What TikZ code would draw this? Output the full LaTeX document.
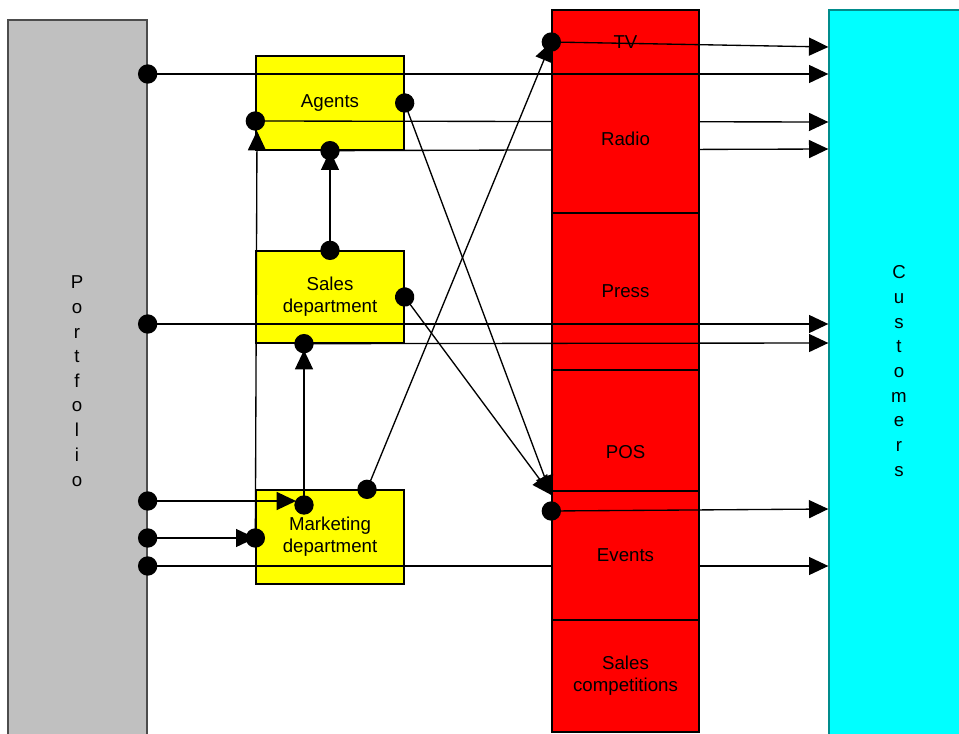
\documentclass[tikz,border=0pt]{standalone}
\usepackage{fontspec}
\setmainfont{Liberation Sans}
\usetikzlibrary{arrows.meta}
\definecolor{silver}{RGB}{192,192,192}
\definecolor{custedge}{RGB}{0,140,140}
\definecolor{custfill}{RGB}{0,255,255}
\definecolor{deptfill}{RGB}{255,255,0}
\definecolor{mediafill}{RGB}{255,0,0}
\tikzset{
    unit/.style={draw=black, line width=1pt, inner sep=0pt, align=center, font=\fontsize{14}{16.5}\selectfont},
    dept/.style={unit, fill=deptfill, minimum width=111pt},
    media/.style={unit, fill=mediafill, minimum width=110.25pt},
    stack/.style={align=center, inner sep=0pt, font=\fontsize{14}{18.5}\selectfont},
    flow/.style={line width=1pt, {Circle[length=14.5pt]}-{Triangle[length=14.5pt,width=13.5pt]}, shorten <=-7.25pt},
}
\begin{document}
\begin{tikzpicture}[x=0.75pt,y=-0.75pt]
        \useasboundingbox (0,0) rectangle (959,734);
        % outer columns
        \node[unit, draw=gray!60!black, fill=silver, minimum width=104.25pt, minimum height=543pt] (port) at (77.5,382) {};
        \node[stack] (portlabel) at (77,381) {P\\o\\r\\t\\f\\o\\l\\i\\o};
        \node[unit, draw=custedge, fill=custfill, minimum width=105pt, minimum height=550.5pt] (cust) at (899,377) {};
        \node[stack] (custlabel) at (899,371) {C\\u\\s\\t\\o\\m\\e\\r\\s};

        % departments
        \node[dept, minimum height=70.5pt] (agents) at (330,103) {Agents};
        \node[dept, minimum height=69pt] (sales) at (330,297) {Sales\\department};
        \node[dept, minimum height=70.5pt] (mkt) at (330,537) {Marketing\\department};

        \coordinate (agentsin) at (257,131);
        \coordinate (salesin) at (304,350);
        \coordinate (mktup) at (304,505);
        \coordinate (mktin) at (296,501);

        % lines behind the media column
        \draw[flow] (agents.west |- 0,121) -- (cust.west |- 0,122);
        \draw[flow] (agents.south) -- (cust.west |- 0,149);
        \draw[flow] (port.east |- 0,566) -- (cust.west |- 0,566);

        % media
        \node[media, minimum height=111.75pt] (radio) at (625.5,138.5) {Radio};
        \node[media, minimum height=48pt] (tv) at (625.5,42) {TV};
        \node[media, minimum height=117.75pt] (press) at (625.5,291.5) {Press};
        \node[media, minimum height=123pt] (pos) at (625.5,452) {POS};
        \node[media, minimum height=96.75pt] (events) at (625.5,555.5) {Events};
        \node[media, minimum height=84pt] (comp) at (625.5,676) {Sales\\competitions};

        \draw[flow] (port.east |- 0,74) -- (cust.west |- 0,74);
        \draw[flow] (sales.north) -- (agents.south);
        \draw[flow] (mkt.west |- 0,538) -- (agentsin);
        \draw[flow] (agents.east) -- (pos.west |- 0,495);
        \draw[flow] (sales.east) -- (pos.west |- 0,495);
        \draw[flow] (mkt.north -| 367,0) -- (tv.west);
        \draw[flow] (tv.west) -- (cust.west |- 0,47);
        \draw[flow] (events.west |- 0,511) -- (cust.west |- 0,509);
        \draw[flow] (port.east |- 0,324) -- (cust.west |- 0,324);
        \draw[flow] (sales.south -| 304,0) -- (cust.west |- 0,343);
        \draw[flow] (mktup) -- (salesin);
        \draw[flow] (port.east |- mktin) -- (mktin);
        \draw[flow] (port.east |- 0,538) -- (mkt.west |- 0,538);
    \end{tikzpicture}
\end{document}
